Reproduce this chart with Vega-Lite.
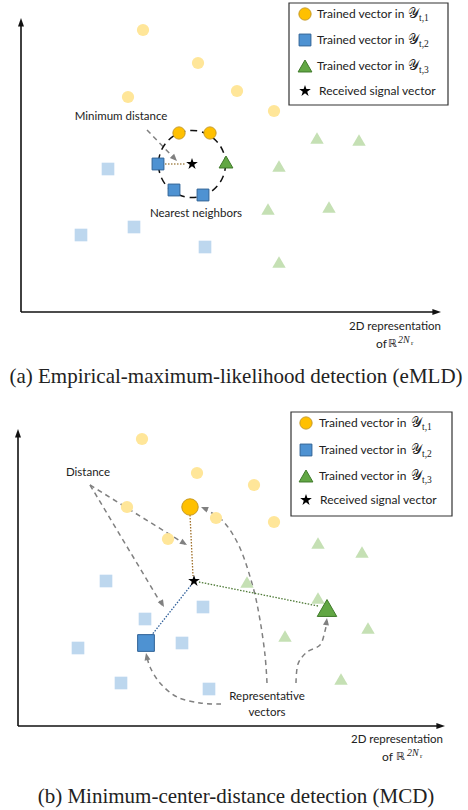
{
  "$schema": "https://vega.github.io/schema/vega-lite/v6.json",
  "width": 468,
  "height": 810,
  "autosize": {"type": "fit", "contains": "padding"},
  "padding": 0,
  "background": "white",
  "config": {"view": {"stroke": null}},
  "datasets": {
    "axes": [
      {"x": 21, "y": 312, "x2": 21, "y2": 22},
      {"x": 21, "y": 312, "x2": 438, "y2": 312},
      {"x": 18, "y": 726, "x2": 18, "y2": 433},
      {"x": 18, "y": 726, "x2": 442, "y2": 726}
    ],
    "axisheads": [
      {"x": 21, "y": 18, "angle": 0},
      {"x": 441, "y": 312, "angle": 90},
      {"x": 18, "y": 429, "angle": 0},
      {"x": 445, "y": 726, "angle": 90}
    ],
    "straightArrows": [
      {"x": 147, "y": 130, "x2": 175, "y2": 159},
      {"x": 90, "y": 485, "x2": 185, "y2": 544},
      {"x": 90, "y": 485, "x2": 162, "y2": 605}
    ],
    "curves": [
      {"cid": "c1", "seq": 1, "x": 221, "y": 704},
      {"cid": "c1", "seq": 2, "x": 200, "y": 703},
      {"cid": "c1", "seq": 3, "x": 177, "y": 697},
      {"cid": "c1", "seq": 4, "x": 160, "y": 683},
      {"cid": "c1", "seq": 5, "x": 150, "y": 667},
      {"cid": "c1", "seq": 6, "x": 147, "y": 656},
      {"cid": "c2", "seq": 1, "x": 267, "y": 683},
      {"cid": "c2", "seq": 2, "x": 265, "y": 655},
      {"cid": "c2", "seq": 3, "x": 260, "y": 620},
      {"cid": "c2", "seq": 4, "x": 253, "y": 587},
      {"cid": "c2", "seq": 5, "x": 240, "y": 548},
      {"cid": "c2", "seq": 6, "x": 223, "y": 521},
      {"cid": "c2", "seq": 7, "x": 204, "y": 509},
      {"cid": "c3", "seq": 1, "x": 296, "y": 683},
      {"cid": "c3", "seq": 2, "x": 298, "y": 664},
      {"cid": "c3", "seq": 3, "x": 307, "y": 652},
      {"cid": "c3", "seq": 4, "x": 320, "y": 645},
      {"cid": "c3", "seq": 5, "x": 325, "y": 631},
      {"cid": "c3", "seq": 6, "x": 327, "y": 621}
    ],
    "grayheads": [
      {"x": 177, "y": 161, "angle": 136},
      {"x": 187, "y": 545, "angle": 122},
      {"x": 164, "y": 607, "angle": 150},
      {"x": 146, "y": 653, "angle": -12},
      {"x": 201, "y": 507, "angle": -68},
      {"x": 327, "y": 618, "angle": 8}
    ],
    "connectors": [
      {"g": "a", "x": 165, "y": 164, "x2": 186, "y2": 164},
      {"g": "Y1", "x": 190, "y": 515, "x2": 193, "y2": 576},
      {"g": "Y2", "x": 151, "y": 636, "x2": 192, "y2": 584},
      {"g": "Y3", "x": 318, "y": 606, "x2": 199, "y2": 582}
    ],
    "circle": [{"x": 192, "y": 164}],
    "legendBox": [
      {"x": 289, "y": 3, "x2": 448, "y2": 105},
      {"x": 291, "y": 412, "x2": 452, "y2": 516}
    ],
    "light": [
      {"g": "Y1", "x": 143, "y": 30}, {"g": "Y1", "x": 198, "y": 63}, {"g": "Y1", "x": 237, "y": 91},
      {"g": "Y1", "x": 128, "y": 97}, {"g": "Y1", "x": 274, "y": 111},
      {"g": "Y1", "x": 142, "y": 439}, {"g": "Y1", "x": 197, "y": 473}, {"g": "Y1", "x": 254, "y": 485},
      {"g": "Y1", "x": 127, "y": 507}, {"g": "Y1", "x": 168, "y": 539}, {"g": "Y1", "x": 216, "y": 518},
      {"g": "Y1", "x": 274, "y": 522},
      {"g": "Y2", "x": 108, "y": 169}, {"g": "Y2", "x": 81, "y": 235}, {"g": "Y2", "x": 134, "y": 227},
      {"g": "Y2", "x": 205, "y": 247},
      {"g": "Y2", "x": 106, "y": 581}, {"g": "Y2", "x": 203, "y": 607}, {"g": "Y2", "x": 145, "y": 619},
      {"g": "Y2", "x": 182, "y": 643}, {"g": "Y2", "x": 78, "y": 648}, {"g": "Y2", "x": 121, "y": 683},
      {"g": "Y2", "x": 209, "y": 689},
      {"g": "Y3", "x": 317, "y": 138}, {"g": "Y3", "x": 359, "y": 140}, {"g": "Y3", "x": 279, "y": 166},
      {"g": "Y3", "x": 268, "y": 209}, {"g": "Y3", "x": 329, "y": 207}, {"g": "Y3", "x": 279, "y": 262},
      {"g": "Y3", "x": 247, "y": 582}, {"g": "Y3", "x": 318, "y": 543}, {"g": "Y3", "x": 362, "y": 552},
      {"g": "Y3", "x": 318, "y": 598}, {"g": "Y3", "x": 285, "y": 636}, {"g": "Y3", "x": 368, "y": 628},
      {"g": "Y3", "x": 341, "y": 679}
    ],
    "dark": [
      {"g": "Y1", "x": 179, "y": 133}, {"g": "Y1", "x": 210, "y": 133},
      {"g": "Y1", "x": 305, "y": 14}, {"g": "Y1", "x": 306, "y": 423},
      {"g": "Y2", "x": 158, "y": 164}, {"g": "Y2", "x": 174, "y": 190}, {"g": "Y2", "x": 203, "y": 195},
      {"g": "Y2", "x": 305, "y": 40}, {"g": "Y2", "x": 306, "y": 450},
      {"g": "Y3", "x": 226, "y": 162},
      {"g": "Y3", "x": 305, "y": 66}, {"g": "Y3", "x": 306, "y": 476}
    ],
    "reps": [
      {"g": "Y1", "x": 190, "y": 507},
      {"g": "Y2", "x": 146, "y": 643},
      {"g": "Y3", "x": 327, "y": 608}
    ],
    "stars": [
      {"x": 192, "y": 164}, {"x": 194, "y": 581},
      {"x": 305, "y": 91}, {"x": 306, "y": 500}
    ],
    "labels": [
      {"x": 121, "y": 117, "label": "Minimum distance"},
      {"x": 196, "y": 214, "label": "Nearest neighbors"},
      {"x": 88, "y": 473, "label": "Distance"},
      {"x": 267, "y": 697, "label": "Representative"},
      {"x": 267, "y": 713, "label": "vectors"},
      {"x": 395, "y": 327, "label": "2D representation"},
      {"x": 397, "y": 740, "label": "2D representation"}
    ],
    "leftLabels": [
      {"x": 376, "y": 344, "label": "of"},
      {"x": 382, "y": 757, "label": "of"},
      {"x": 317, "y": 14, "label": "Trained vector in"},
      {"x": 317, "y": 40, "label": "Trained vector in"},
      {"x": 317, "y": 66, "label": "Trained vector in"},
      {"x": 319, "y": 91, "label": "Received signal vector"},
      {"x": 319, "y": 423, "label": "Trained vector in"},
      {"x": 319, "y": 450, "label": "Trained vector in"},
      {"x": 319, "y": 476, "label": "Trained vector in"},
      {"x": 320, "y": 500, "label": "Received signal vector"}
    ],
    "reals": [
      {"x": 388, "y": 344, "label": "ℝ"},
      {"x": 396, "y": 757, "label": "ℝ"}
    ],
    "sups": [
      {"x": 398, "y": 339.5, "label": "2N"},
      {"x": 407, "y": 752.5, "label": "2N"}
    ],
    "supsubs": [
      {"x": 411, "y": 342.5, "label": "r"},
      {"x": 420, "y": 755.5, "label": "r"}
    ],
    "scripts": [
      {"x": 408, "y": 14, "label": "𝒴"}, {"x": 408, "y": 40, "label": "𝒴"}, {"x": 408, "y": 66, "label": "𝒴"},
      {"x": 411, "y": 423, "label": "𝒴"}, {"x": 411, "y": 450, "label": "𝒴"}, {"x": 411, "y": 476, "label": "𝒴"}
    ],
    "subs": [
      {"x": 419, "y": 18, "label": "t,1"}, {"x": 419, "y": 44, "label": "t,2"}, {"x": 419, "y": 70, "label": "t,3"},
      {"x": 422, "y": 427, "label": "t,1"}, {"x": 422, "y": 454, "label": "t,2"}, {"x": 422, "y": 480, "label": "t,3"}
    ],
    "captions": [
      {"x": 236, "y": 377, "label": "(a) Empirical-maximum-likelihood detection (eMLD)"},
      {"x": 236, "y": 797, "label": "(b) Minimum-center-distance detection (MCD)"}
    ]
  },
  "layer": [
    {
      "data": {"name": "legendBox"},
      "mark": {"type": "rect", "fill": "white", "stroke": "#333333", "strokeWidth": 1.2},
      "encoding": {
        "x": {"field": "x", "type": "quantitative", "scale": {"domain": [0, 468], "nice": false, "zero": false}, "axis": null},
        "y": {"field": "y", "type": "quantitative", "scale": {"domain": [0, 810], "reverse": true, "nice": false, "zero": false}, "axis": null},
        "x2": {"field": "x2"}, "y2": {"field": "y2"}
      }
    },
    {
      "data": {"name": "axes"},
      "mark": {"type": "rule", "color": "#111111", "strokeWidth": 1.6},
      "encoding": {
        "x": {"field": "x", "type": "quantitative"},
        "y": {"field": "y", "type": "quantitative"},
        "x2": {"field": "x2"}, "y2": {"field": "y2"}
      }
    },
    {
      "data": {"name": "axisheads"},
      "mark": {"type": "point", "shape": "M0,0L-0.9,2.6L0.9,2.6Z", "filled": true, "color": "#111111", "size": 44, "opacity": 1},
      "encoding": {
        "x": {"field": "x", "type": "quantitative"},
        "y": {"field": "y", "type": "quantitative"},
        "angle": {"field": "angle", "type": "quantitative", "scale": null}
      }
    },
    {
      "data": {"name": "straightArrows"},
      "mark": {"type": "rule", "color": "#808080", "strokeWidth": 1.5, "strokeDash": [5, 4]},
      "encoding": {
        "x": {"field": "x", "type": "quantitative"},
        "y": {"field": "y", "type": "quantitative"},
        "x2": {"field": "x2"}, "y2": {"field": "y2"}
      }
    },
    {
      "data": {"name": "curves"},
      "mark": {"type": "line", "color": "#808080", "strokeWidth": 1.5, "strokeDash": [5, 4], "interpolate": "cardinal"},
      "encoding": {
        "x": {"field": "x", "type": "quantitative"},
        "y": {"field": "y", "type": "quantitative"},
        "detail": {"field": "cid", "type": "nominal"},
        "order": {"field": "seq", "type": "quantitative"}
      }
    },
    {
      "data": {"name": "grayheads"},
      "mark": {"type": "point", "shape": "M0,0L-1,2.4L1,2.4Z", "filled": true, "color": "#808080", "size": 36, "opacity": 1},
      "encoding": {
        "x": {"field": "x", "type": "quantitative"},
        "y": {"field": "y", "type": "quantitative"},
        "angle": {"field": "angle", "type": "quantitative", "scale": null}
      }
    },
    {
      "data": {"name": "connectors"},
      "mark": {"type": "rule", "strokeWidth": 1.3, "strokeDash": [1.5, 1.5]},
      "encoding": {
        "x": {"field": "x", "type": "quantitative"},
        "y": {"field": "y", "type": "quantitative"},
        "x2": {"field": "x2"}, "y2": {"field": "y2"},
        "color": {"field": "g", "type": "nominal", "legend": null,
          "scale": {"domain": ["a", "Y1", "Y2", "Y3"], "range": ["#a88a55", "#a0702a", "#2f5f9a", "#4e7a36"]}}
      }
    },
    {
      "data": {"name": "circle"},
      "mark": {"type": "point", "shape": "circle", "filled": false, "color": "#111111", "strokeWidth": 1.5, "strokeDash": [7, 5], "size": 4500, "opacity": 1},
      "encoding": {
        "x": {"field": "x", "type": "quantitative"},
        "y": {"field": "y", "type": "quantitative"}
      }
    },
    {
      "data": {"name": "light"},
      "transform": [{"filter": "datum.g === 'Y1'"}],
      "mark": {"type": "point", "shape": "circle", "filled": true, "color": "#ffe699", "size": 150, "opacity": 1},
      "encoding": {
        "x": {"field": "x", "type": "quantitative"},
        "y": {"field": "y", "type": "quantitative"}
      }
    },
    {
      "data": {"name": "light"},
      "transform": [{"filter": "datum.g === 'Y2'"}],
      "mark": {"type": "point", "shape": "square", "filled": true, "color": "#bdd7ee", "size": 160, "opacity": 1},
      "encoding": {
        "x": {"field": "x", "type": "quantitative"},
        "y": {"field": "y", "type": "quantitative"}
      }
    },
    {
      "data": {"name": "light"},
      "transform": [{"filter": "datum.g === 'Y3'"}],
      "mark": {"type": "point", "shape": "triangle-up", "filled": true, "color": "#c5e0b4", "size": 180, "opacity": 1},
      "encoding": {
        "x": {"field": "x", "type": "quantitative"},
        "y": {"field": "y", "type": "quantitative"}
      }
    },
    {
      "data": {"name": "dark"},
      "transform": [{"filter": "datum.g === 'Y1'"}],
      "mark": {"type": "point", "shape": "circle", "filled": true, "fill": "#ffc000", "stroke": "#c89a22", "strokeWidth": 1, "size": 150, "opacity": 1},
      "encoding": {
        "x": {"field": "x", "type": "quantitative"},
        "y": {"field": "y", "type": "quantitative"}
      }
    },
    {
      "data": {"name": "dark"},
      "transform": [{"filter": "datum.g === 'Y2'"}],
      "mark": {"type": "point", "shape": "square", "filled": true, "fill": "#4e92d2", "stroke": "#2f6296", "strokeWidth": 1, "size": 140, "opacity": 1},
      "encoding": {
        "x": {"field": "x", "type": "quantitative"},
        "y": {"field": "y", "type": "quantitative"}
      }
    },
    {
      "data": {"name": "dark"},
      "transform": [{"filter": "datum.g === 'Y3'"}],
      "mark": {"type": "point", "shape": "triangle-up", "filled": true, "fill": "#62a744", "stroke": "#3f7a2a", "strokeWidth": 1, "size": 190, "opacity": 1},
      "encoding": {
        "x": {"field": "x", "type": "quantitative"},
        "y": {"field": "y", "type": "quantitative"}
      }
    },
    {
      "data": {"name": "reps"},
      "transform": [{"filter": "datum.g === 'Y1'"}],
      "mark": {"type": "point", "shape": "circle", "filled": true, "fill": "#ffc000", "stroke": "#c89a22", "strokeWidth": 1, "size": 270, "opacity": 1},
      "encoding": {
        "x": {"field": "x", "type": "quantitative"},
        "y": {"field": "y", "type": "quantitative"}
      }
    },
    {
      "data": {"name": "reps"},
      "transform": [{"filter": "datum.g === 'Y2'"}],
      "mark": {"type": "point", "shape": "square", "filled": true, "fill": "#4e92d2", "stroke": "#2f6296", "strokeWidth": 1, "size": 280, "opacity": 1},
      "encoding": {
        "x": {"field": "x", "type": "quantitative"},
        "y": {"field": "y", "type": "quantitative"}
      }
    },
    {
      "data": {"name": "reps"},
      "transform": [{"filter": "datum.g === 'Y3'"}],
      "mark": {"type": "point", "shape": "triangle-up", "filled": true, "fill": "#62a744", "stroke": "#3f7a2a", "strokeWidth": 1, "size": 380, "opacity": 1},
      "encoding": {
        "x": {"field": "x", "type": "quantitative"},
        "y": {"field": "y", "type": "quantitative"}
      }
    },
    {
      "data": {"name": "stars"},
      "mark": {"type": "point", "shape": "M0,-1L0.2245,-0.309L0.951,-0.309L0.363,0.118L0.588,0.809L0,0.382L-0.588,0.809L-0.363,0.118L-0.951,-0.309L-0.2245,-0.309Z", "filled": true, "color": "#000000", "size": 150, "opacity": 1},
      "encoding": {
        "x": {"field": "x", "type": "quantitative"},
        "y": {"field": "y", "type": "quantitative"}
      }
    },
    {
      "data": {"name": "labels"},
      "mark": {"type": "text", "font": "Lato", "fontSize": 11.5, "color": "#222222", "align": "center", "baseline": "middle"},
      "encoding": {
        "x": {"field": "x", "type": "quantitative"},
        "y": {"field": "y", "type": "quantitative"},
        "text": {"field": "label", "type": "nominal"}
      }
    },
    {
      "data": {"name": "leftLabels"},
      "mark": {"type": "text", "font": "Lato", "fontSize": 12, "color": "#222222", "align": "left", "baseline": "middle"},
      "encoding": {
        "x": {"field": "x", "type": "quantitative"},
        "y": {"field": "y", "type": "quantitative"},
        "text": {"field": "label", "type": "nominal"}
      }
    },
    {
      "data": {"name": "reals"},
      "mark": {"type": "text", "font": "DejaVu Sans", "fontSize": 11, "color": "#222222", "align": "left", "baseline": "middle"},
      "encoding": {
        "x": {"field": "x", "type": "quantitative"},
        "y": {"field": "y", "type": "quantitative"},
        "text": {"field": "label", "type": "nominal"}
      }
    },
    {
      "data": {"name": "sups"},
      "mark": {"type": "text", "font": "Liberation Serif", "fontStyle": "italic", "fontSize": 10, "color": "#222222", "align": "left", "baseline": "middle"},
      "encoding": {
        "x": {"field": "x", "type": "quantitative"},
        "y": {"field": "y", "type": "quantitative"},
        "text": {"field": "label", "type": "nominal"}
      }
    },
    {
      "data": {"name": "supsubs"},
      "mark": {"type": "text", "font": "Liberation Serif", "fontSize": 7, "color": "#222222", "align": "left", "baseline": "middle"},
      "encoding": {
        "x": {"field": "x", "type": "quantitative"},
        "y": {"field": "y", "type": "quantitative"},
        "text": {"field": "label", "type": "nominal"}
      }
    },
    {
      "data": {"name": "scripts"},
      "mark": {"type": "text", "fontSize": 14, "color": "#222222", "align": "left", "baseline": "middle"},
      "encoding": {
        "x": {"field": "x", "type": "quantitative"},
        "y": {"field": "y", "type": "quantitative"},
        "text": {"field": "label", "type": "nominal"}
      }
    },
    {
      "data": {"name": "subs"},
      "mark": {"type": "text", "font": "Liberation Serif", "fontSize": 9.5, "color": "#222222", "align": "left", "baseline": "middle"},
      "encoding": {
        "x": {"field": "x", "type": "quantitative"},
        "y": {"field": "y", "type": "quantitative"},
        "text": {"field": "label", "type": "nominal"}
      }
    },
    {
      "data": {"name": "captions"},
      "mark": {"type": "text", "font": "Liberation Serif", "fontSize": 21, "color": "#222222", "align": "center", "baseline": "middle"},
      "encoding": {
        "x": {"field": "x", "type": "quantitative"},
        "y": {"field": "y", "type": "quantitative"},
        "text": {"field": "label", "type": "nominal"}
      }
    }
  ]
}
